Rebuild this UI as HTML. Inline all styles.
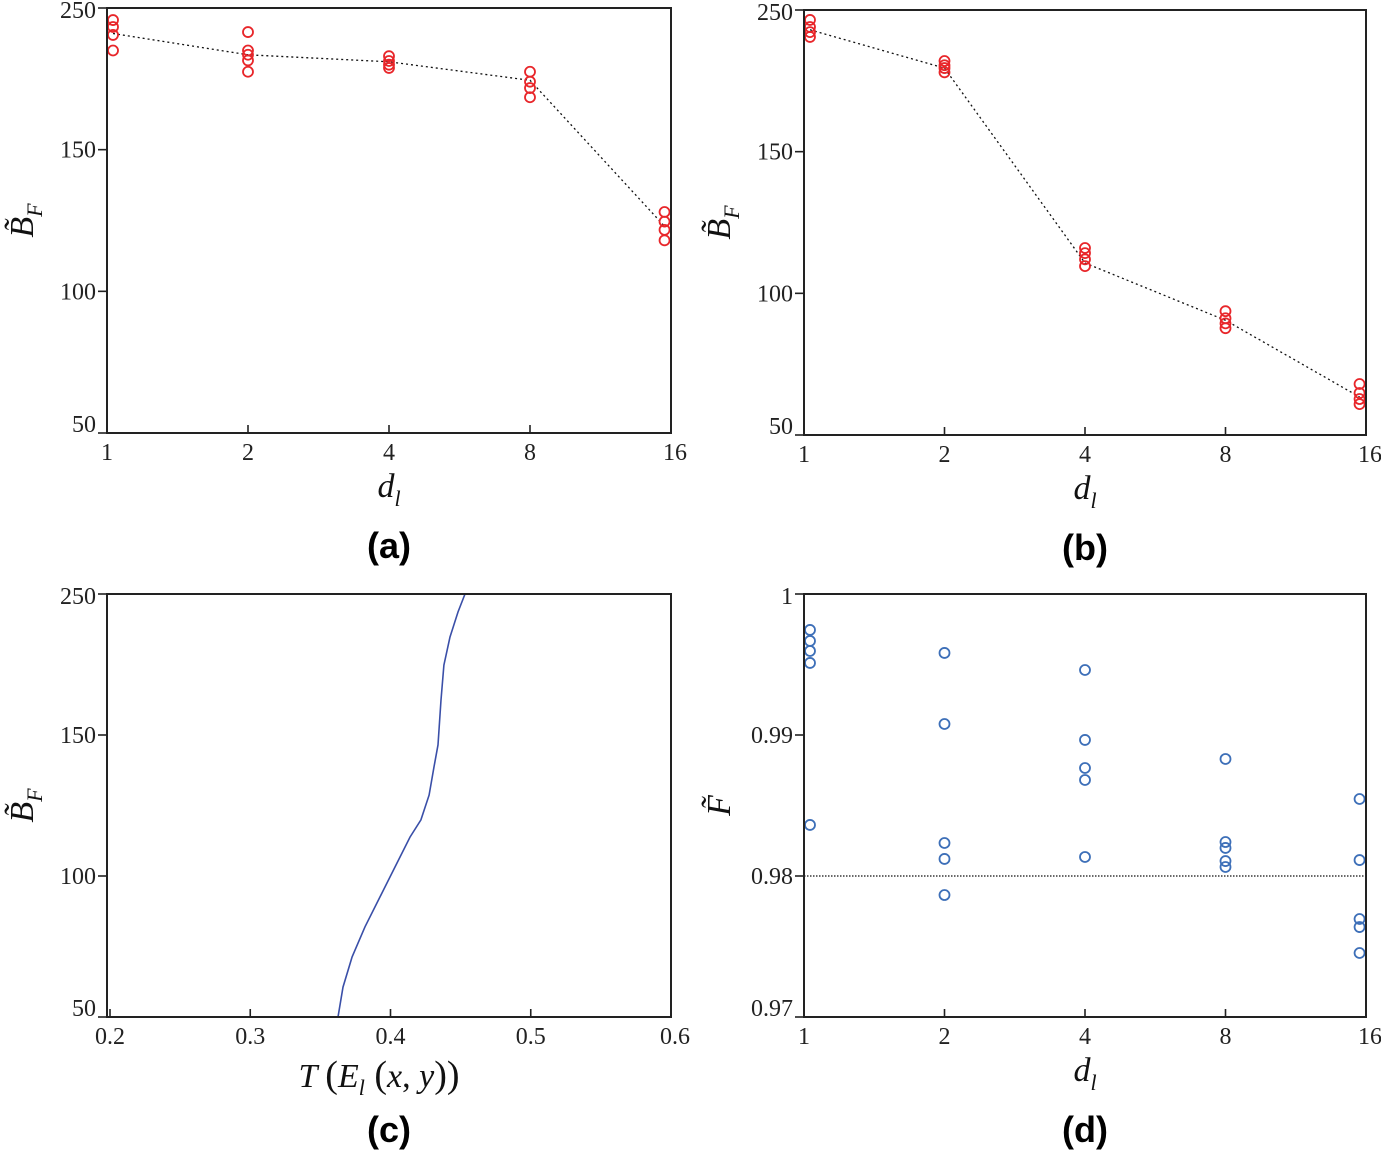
<!DOCTYPE html>
<html><head><meta charset="utf-8"><style>
html,body{margin:0;padding:0;background:#fff;width:1381px;height:1157px;overflow:hidden}
svg{display:block}
.tk{font-family:"Liberation Serif",serif;font-size:24px;fill:#222}
.ax{font-family:"Liberation Serif",serif;font-style:italic;font-size:34px;fill:#111}
.pl{font-family:"Liberation Sans",sans-serif;font-weight:bold;font-size:36px;fill:#000}
</style></head><body>
<svg id="fig" width="1381" height="1157" xmlns="http://www.w3.org/2000/svg"></svg>
<script>
// ---- data ----
const dlTicks = [1, 2, 4, 8, 16];
const bTicks = [50, 100, 150, 250];
// panel (a)
const aX = [1.03,1.03,1.03,1.03, 2,2,2,2,2, 4,4,4,4, 8,8,8,8, 15.5,15.5,15.5,15.5];
const aY = [241.5,236.6,231,220, 233,220,217,213,205, 216,212.6,210,207.7, 205,198,193.5,187, 128,124.6,121.7,118];
const aLineX = [1.03, 2, 4, 8, 15.5];
const aLineY = [232, 217, 212, 199, 123];
// panel (b)
const bX = [1.03,1.03,1.03,1.03, 2,2,2,2, 4,4,4,4, 8,8,8,8, 15.5,15.5,15.5,15.5];
const bY = [243,238,234.4,231, 214,211,209,206, 116,114.2,112,109.6, 93.7,91.2,89.4,87.7, 68,64.8,62.7,60.9];
const bLineX = [1.03, 2, 4, 8, 15.5];
const bLineY = [236, 209, 110.7, 90.5, 63.4];
// panel (c)
const cT = [0.3626,0.3661,0.3726,0.3818,0.3925,0.4032,0.4139,0.4217,0.4275,0.431,0.4339,0.436,0.4381,0.4424,0.4481,0.4531];
const cB = [50,60.6,71.3,82,92.6,103.2,113.8,119.9,128.7,138.7,146.5,174.8,199.6,219.5,237.2,250];
const cTicks = [0.2, 0.3, 0.4, 0.5, 0.6];
// panel (d)
const dX = [1.03,1.03,1.03,1.03,1.03, 2,2,2,2,2, 4,4,4,4,4, 8,8,8,8,8, 15.5,15.5,15.5,15.5,15.5];
const dY = [0.99745,0.99667,0.99596,0.99511,0.98362, 0.99582,0.99078,0.98234,0.98121,0.97865, 0.99461,0.98965,0.98766,0.98681,0.98135, 0.9883,0.98241,0.98199,0.98106,0.98064, 0.98546,0.98113,0.97695,0.97638,0.97454];
const dTicks = [0.97, 0.98, 0.99, 1];
const dTickLabels = ["0.97", "0.98", "0.99", "1"];
const dRef = 0.98;

const NS = "http://www.w3.org/2000/svg";
const fig = document.getElementById('fig');
function mk(tag, attrs, parent, text) {
  const e = document.createElementNS(NS, tag);
  for (const k in attrs) e.setAttribute(k, attrs[k]);
  if (text !== undefined) e.textContent = text;
  (parent || fig).appendChild(e);
  return e;
}
function logX(L, R) { return v => L + (Math.log2(v) / 4) * (R - L); }
function linX(L, R, a, b) { return v => L + (v - a) / (b - a) * (R - L); }
function pieceY(T, B) {
  const s = (B - T) / 3;
  return v => {
    if (v <= 100) return B - (v - 50) / 50 * s;
    if (v <= 150) return B - s - (v - 100) / 50 * s;
    return B - 2 * s - (v - 150) / 100 * s;
  };
}
function linY(T, B, a, b) { return v => B - (v - a) / (b - a) * (B - T); }

function frame(g, L, T, R, B) {
  const r = mk('rect', {x:L, y:T, width:R-L, height:B-T, fill:'none', stroke:'#222', 'stroke-width':2}, g);
  
  
}
function xAxis(g, L, R, B, fx, ticks, labels) {
  ticks.forEach((t, i) => {
    const x = fx(t);
    const l = mk('line', {x1:x, x2:x, y1:B, y2:B-8, stroke:'#222', 'stroke-width':1.6}, g);
    
    
    const tx = mk('text', {x:x + (i === ticks.length-1 ? 4 : 0), y:B+27, 'text-anchor':'middle', class:'tk'}, g, labels[i]);
    
    
  });
}
function yAxis(g, L, fy, ticks, labels, T, B) {
  ticks.forEach((t, i) => {
    const y = fy(t);
    const l = mk('line', {x1:L, x2:L-9, y1:y, y2:y, stroke:'#222', 'stroke-width':1.6}, g);
    
    
    let ty = y + 8;
    if (i === 0) ty = Math.min(ty, B - 1);
    if (i === ticks.length-1) ty = Math.max(ty, T + 10);
    const tx = mk('text', {x:L-11, y:ty, 'text-anchor':'end', class:'tk'}, g, labels[i]);
    
    
  });
}
function panelLabel(g, cx, B, pl) {
  const p = mk('text', {x:cx, y:B+125, 'text-anchor':'middle', class:'pl'}, g, pl);
  
  
}
function scatter(g, xs, ys, fx, fy, color) {
  xs.forEach((x, i) => {
    const c = mk('circle', {cx:fx(x), cy:fy(ys[i]), r:5, fill:'none', stroke:color, 'stroke-width':1.8}, g);
    
    
  });
}
function polyline(g, xs, ys, fx, fy, attrs, name) {
  const pts = xs.map((x, i) => fx(x).toFixed(1) + ',' + fy(ys[i]).toFixed(1)).join(' ');
  const p = mk('polyline', Object.assign({points:pts, fill:'none'}, attrs), g);
  
  
}
function addXD(g, cx, y) {
  const xt = mk('text', {x:cx, y:y, 'text-anchor':'middle', class:'ax'}, g);
   
  xt.innerHTML = 'd<tspan font-size="22" dy="9">l</tspan>';
}
function addYMath(g, L, cy) {
  const yg = mk('g', {transform:`translate(${L-74},${cy}) rotate(-90)`}, g);
   
  const t = mk('text', {x:0, y:0, 'text-anchor':'middle', class:'ax'}, yg);
  t.innerHTML = 'B\u0303<tspan font-size="22" dy="9">F</tspan>';
}

// panel a
(function(){
  const L=107,T=8,R=671,B=433;
  const g = mk('g', {});  
  const fx = logX(L,R), fy = pieceY(T,B);
  polyline(g, aLineX, aLineY, fx, fy, {stroke:'#111','stroke-width':1.3,'stroke-dasharray':'2,3'}, 'mean-line');
  scatter(g, aX, aY, fx, fy, '#e8262a');
  frame(g,L,T,R,B);
  xAxis(g,L,R,B,fx,dlTicks,dlTicks.map(String));
  yAxis(g,L,fy,bTicks,bTicks.map(String),T,B);
  addXD(g,(L+R)/2,B+64);
  addYMath(g,L,(T+B)/2);
  panelLabel(g,(L+R)/2,B,'(a)');
})();
// panel b
(function(){
  const L=804,T=10,R=1366,B=435;
  const g = mk('g', {});  
  const fx = logX(L,R), fy = pieceY(T,B);
  polyline(g, bLineX, bLineY, fx, fy, {stroke:'#111','stroke-width':1.3,'stroke-dasharray':'2,3'}, 'mean-line');
  scatter(g, bX, bY, fx, fy, '#e8262a');
  frame(g,L,T,R,B);
  xAxis(g,L,R,B,fx,dlTicks,dlTicks.map(String));
  yAxis(g,L,fy,bTicks,bTicks.map(String),T,B);
  addXD(g,(L+R)/2,B+64);
  addYMath(g,L,(T+B)/2);
  panelLabel(g,(L+R)/2,B,'(b)');
})();
// panel c
(function(){
  const L=107,T=594,R=671,B=1017;
  const g = mk('g', {});  
  const fx = linX(L+3,R,0.2,0.6), fy = pieceY(T,B);
  polyline(g, cT, cB, fx, fy, {stroke:'#3a4fa8','stroke-width':1.6}, 'curve');
  frame(g,L,T,R,B);
  xAxis(g,L,R,B,fx,cTicks,cTicks.map(v=>v.toFixed(1)));
  yAxis(g,L,fy,bTicks,bTicks.map(String),T,B);
  addYMath(g, L, (T+B)/2);
  panelLabel(g,(L+R)/2,B,'(c)');
  const xt = mk('text', {x:(L+R)/2-10, y:B+70, 'text-anchor':'middle', class:'ax'}, g);
   
  xt.innerHTML = 'T <tspan font-style="normal" font-size="38">(</tspan>E<tspan font-size="22" dy="8">l</tspan><tspan dy="-8" font-style="normal" font-size="38"> (</tspan>x<tspan font-style="normal">, </tspan>y<tspan font-style="normal" font-size="38">))</tspan>';
})();
// panel d
(function(){
  const L=804,T=594,R=1366,B=1017;
  const g = mk('g', {});  
  const fx = logX(L,R), fy = linY(T,B,0.97,1);
  polyline(g, [1,16], [dRef,dRef], fx, fy, {stroke:'#111','stroke-width':1.2,'stroke-dasharray':'1.5,1.5'}, 'reference-line');
  scatter(g, dX, dY, fx, fy, '#3d6fb8');
  frame(g,L,T,R,B);
  xAxis(g,L,R,B,fx,dlTicks,dlTicks.map(String));
  yAxis(g,L,fy,dTicks,dTickLabels,T,B);
  addXD(g,(L+R)/2,B+64);
  panelLabel(g,(L+R)/2,B,'(d)');
  const yg = mk('g', {transform:`translate(${L-74},${(T+B)/2}) rotate(-90)`}, g);
   
  mk('text', {x:0, y:0, 'text-anchor':'middle', class:'ax'}, yg, 'F\u0303');
})();
</script>
</body></html>
